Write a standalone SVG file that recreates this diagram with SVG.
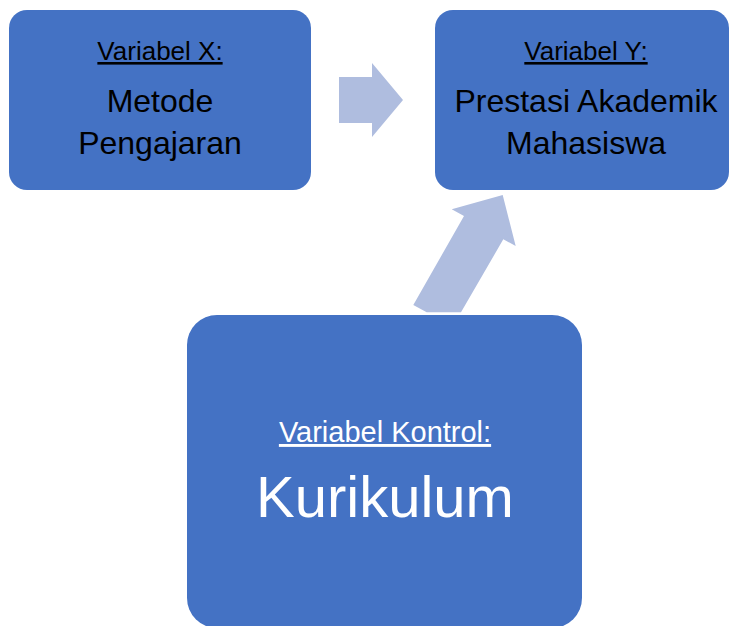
<svg xmlns="http://www.w3.org/2000/svg" width="730" height="626" viewBox="0 0 730 626">
  <style>
    .box { fill: #4472C4; }
    .arrow { fill: #AFBDDF; }
    text { font-family: "Liberation Sans", Arial, sans-serif; text-anchor: middle; }
    .lbl { text-decoration: underline; }
    .dark { fill: #000000; }
    .light { fill: #FFFFFF; }
  </style>
  <rect width="730" height="626" fill="#FFFFFF"/>
  <g id="connectors">
    <polygon class="arrow" points="339,77 372,77 372,63 403,100 372,137 372,123 339,123"/>
    <polygon class="arrow" points="502.7,195 515.7,246 503.3,239.3 461,312.3 426.7,312.3 413.3,305 464,216 451.7,209.3"/>
  </g>
  <g id="node-x">
    <rect class="box" x="9" y="10" width="302" height="180" rx="18" ry="18"/>
    <text class="dark lbl" x="160" y="60" font-size="26">Variabel X:</text>
    <text class="dark" x="160" y="112" font-size="32">Metode</text>
    <text class="dark" x="160" y="154" font-size="32">Pengajaran</text>
  </g>
  <g id="node-y">
    <rect class="box" x="435" y="10" width="294" height="180" rx="18" ry="18"/>
    <text class="dark lbl" x="586" y="60" font-size="26">Variabel Y:</text>
    <text class="dark" x="586" y="112" font-size="32">Prestasi Akademik</text>
    <text class="dark" x="586" y="154" font-size="32">Mahasiswa</text>
  </g>
  <g id="node-kontrol">
    <rect class="box" x="187" y="315" width="395" height="313" rx="30" ry="30"/>
    <text class="light lbl" x="385" y="442" font-size="29">Variabel Kontrol:</text>
    <text class="light" x="385" y="517" font-size="58">Kurikulum</text>
  </g>
</svg>
